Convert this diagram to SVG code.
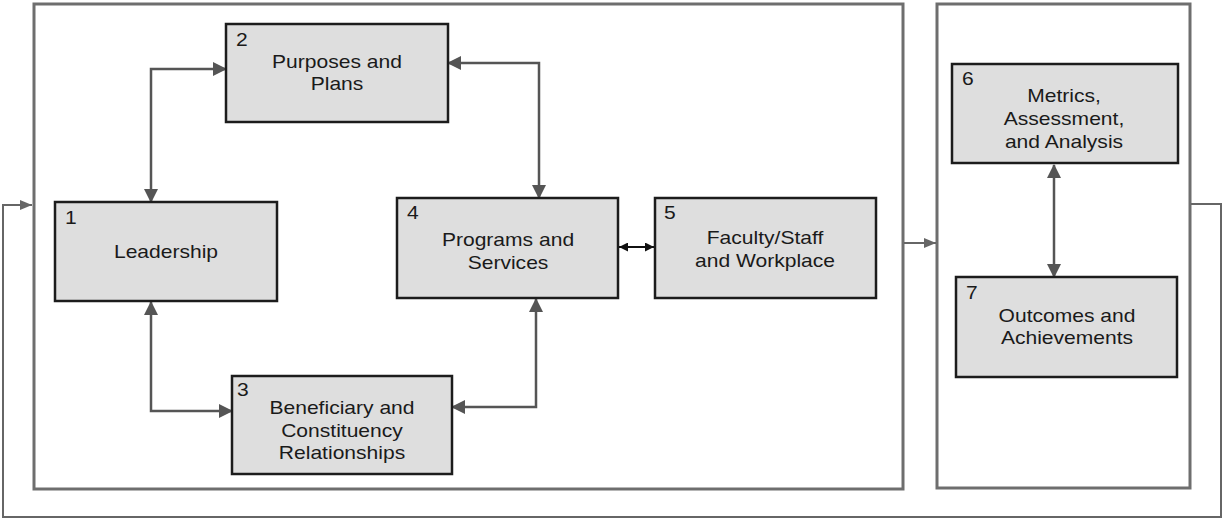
<svg xmlns="http://www.w3.org/2000/svg" width="1225" height="519" viewBox="0 0 1225 519">
  <style>
    .frame { fill: none; stroke: #6e6e6e; stroke-width: 3; }
    .box { fill: #dedede; stroke: #1c1c1c; stroke-width: 2.5; }
    .link { fill: none; stroke: #555; stroke-width: 2.5; }
    .thin { fill: none; stroke: #666; stroke-width: 2; }
    .black { fill: none; stroke: #111; stroke-width: 2; }
    text { font-family: "Liberation Sans", Arial, sans-serif; font-size: 18px; fill: #1a1a1a; }
    .label { text-anchor: middle; }
  </style>
  <defs>
    <marker id="head" viewBox="0 0 14 14" refX="13" refY="7" markerWidth="14" markerHeight="14" markerUnits="userSpaceOnUse" orient="auto-start-reverse">
      <path d="M0,0 L14,7 L0,14 z" fill="#555"/>
    </marker>
    <marker id="headSmall" viewBox="0 0 12 10" refX="12" refY="5" markerWidth="12" markerHeight="10" markerUnits="userSpaceOnUse" orient="auto-start-reverse">
      <path d="M0,0 L12,5 L0,10 z" fill="#666"/>
    </marker>
    <marker id="headBlack" viewBox="0 0 9 9" refX="9" refY="4.5" markerWidth="9" markerHeight="9" markerUnits="userSpaceOnUse" orient="auto-start-reverse">
      <path d="M0,0 L9,4.5 L0,9 z" fill="#111"/>
    </marker>
  </defs>

  <!-- enclosing frames -->
  <g id="frames">
    <rect class="frame" x="34" y="4" width="869" height="485"/>
    <rect class="frame" x="937" y="4" width="253" height="484"/>
  </g>

  <!-- connectors -->
  <g id="connectors">
    <path class="link" d="M151,202 V69 H226" marker-start="url(#head)" marker-end="url(#head)"/>
    <path class="link" d="M448,63 H539 V198" marker-start="url(#head)" marker-end="url(#head)"/>
    <path class="link" d="M151,302 V411 H232" marker-start="url(#head)" marker-end="url(#head)"/>
    <path class="link" d="M452,407 H536 V299" marker-start="url(#head)" marker-end="url(#head)"/>
    <path class="black" d="M619,247 H654" marker-start="url(#headBlack)" marker-end="url(#headBlack)"/>
    <path class="link" d="M1054,165 V277" marker-start="url(#head)" marker-end="url(#head)"/>
    <path class="thin" d="M904,243 H936" marker-end="url(#headSmall)"/>
    <path class="thin" d="M1191,204 H1221 V517 H3 V205 H32" marker-end="url(#headSmall)"/>
  </g>

  <!-- categories -->
  <g id="node1">
    <rect class="box" x="55" y="202" width="222" height="99"/>
    <text x="0" y="224" transform="translate(65 0) scale(1.17 1)">1</text>
    <text class="label" x="0" y="258" transform="translate(166 0) scale(1.17 1)">Leadership</text>
  </g>
  <g id="node2">
    <rect class="box" x="226" y="24" width="222" height="98"/>
    <text x="0" y="46" transform="translate(236 0) scale(1.17 1)">2</text>
    <text class="label" transform="translate(337 0) scale(1.17 1)"><tspan x="0" y="68">Purposes and</tspan><tspan x="0" y="90">Plans</tspan></text>
  </g>
  <g id="node3">
    <rect class="box" x="232" y="376" width="220" height="98"/>
    <text x="0" y="396" transform="translate(237 0) scale(1.17 1)">3</text>
    <text class="label" transform="translate(342 0) scale(1.17 1)"><tspan x="0" y="414">Beneficiary and</tspan><tspan x="0" y="437">Constituency</tspan><tspan x="0" y="459">Relationships</tspan></text>
  </g>
  <g id="node4">
    <rect class="box" x="397" y="198" width="221" height="100"/>
    <text x="0" y="219" transform="translate(407 0) scale(1.17 1)">4</text>
    <text class="label" transform="translate(508 0) scale(1.17 1)"><tspan x="0" y="246">Programs and</tspan><tspan x="0" y="269">Services</tspan></text>
  </g>
  <g id="node5">
    <rect class="box" x="655" y="198" width="221" height="100"/>
    <text x="0" y="219" transform="translate(664 0) scale(1.17 1)">5</text>
    <text class="label" transform="translate(765 0) scale(1.17 1)"><tspan x="0" y="244">Faculty/Staff</tspan><tspan x="0" y="267">and Workplace</tspan></text>
  </g>
  <g id="node6">
    <rect class="box" x="952" y="64" width="226" height="99"/>
    <text x="0" y="85" transform="translate(962 0) scale(1.17 1)">6</text>
    <text class="label" transform="translate(1064 0) scale(1.17 1)"><tspan x="0" y="102">Metrics,</tspan><tspan x="0" y="125">Assessment,</tspan><tspan x="0" y="148">and Analysis</tspan></text>
  </g>
  <g id="node7">
    <rect class="box" x="956" y="277" width="221" height="100"/>
    <text x="0" y="299" transform="translate(966 0) scale(1.17 1)">7</text>
    <text class="label" transform="translate(1067 0) scale(1.17 1)"><tspan x="0" y="322">Outcomes and</tspan><tspan x="0" y="344">Achievements</tspan></text>
  </g>
</svg>
